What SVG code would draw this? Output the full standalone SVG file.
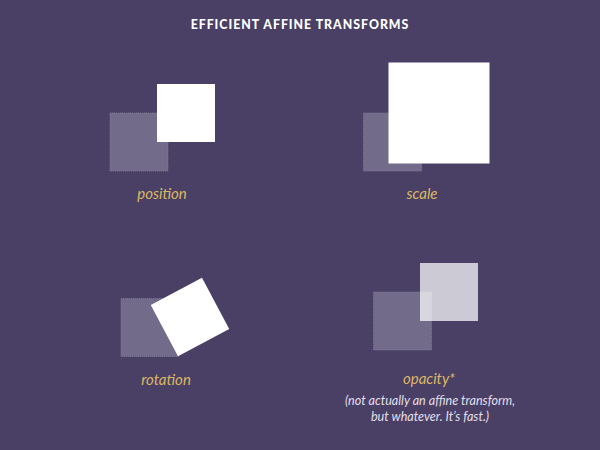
<svg xmlns="http://www.w3.org/2000/svg" width="600" height="450" viewBox="0 0 600 450">
<style>
.title{font-family:Lato,"Liberation Sans",sans-serif;font-weight:900;font-size:12.3px;letter-spacing:1px;fill:#ffffff;text-anchor:middle}
.lbl{font-family:Lato,"Liberation Sans",sans-serif;font-style:italic;font-size:15px;fill:#dcb862;text-anchor:middle}
.note{font-family:Lato,"Liberation Sans",sans-serif;font-style:italic;font-size:12.6px;fill:#e2dfea;text-anchor:middle}
.ghost{fill:#736b8a;stroke:#857d9c;stroke-width:0.8;stroke-dasharray:1 1}
.solid{fill:#ffffff}
</style>
<rect width="600" height="450" fill="#4a4066"/>
<text class="title" x="300" y="29">EFFICIENT AFFINE TRANSFORMS</text>
<g id="position">
<rect class="ghost" x="110" y="113" width="58" height="58"/>
<rect class="solid" x="157" y="84" width="58" height="58"/>
<text class="lbl" x="162" y="199">position</text>
</g>
<g id="scale">
<rect class="ghost" x="363.5" y="113" width="58" height="58"/>
<rect class="solid" x="388.5" y="62.5" width="101" height="101"/>
<text class="lbl" x="422" y="199">scale</text>
</g>
<g id="rotation">
<rect class="ghost" x="121" y="298.5" width="58" height="58"/>
<rect class="solid" x="-29" y="-29" width="58" height="58" transform="translate(190,317) rotate(-28)"/>
<text class="lbl" x="166" y="385">rotation</text>
</g>
<g id="opacity">
<rect class="ghost" x="373.5" y="292" width="58" height="58"/>
<rect x="420" y="263" width="58" height="58" fill="#ffffff" fill-opacity="0.72"/>
<text class="lbl" x="429" y="384">opacity*</text>
<text class="note" x="430" y="405">(not actually an affine transform,</text>
<text class="note" x="430" y="421">but whatever. It’s fast.)</text>
</g>
<g id="connectors"/>
</svg>
